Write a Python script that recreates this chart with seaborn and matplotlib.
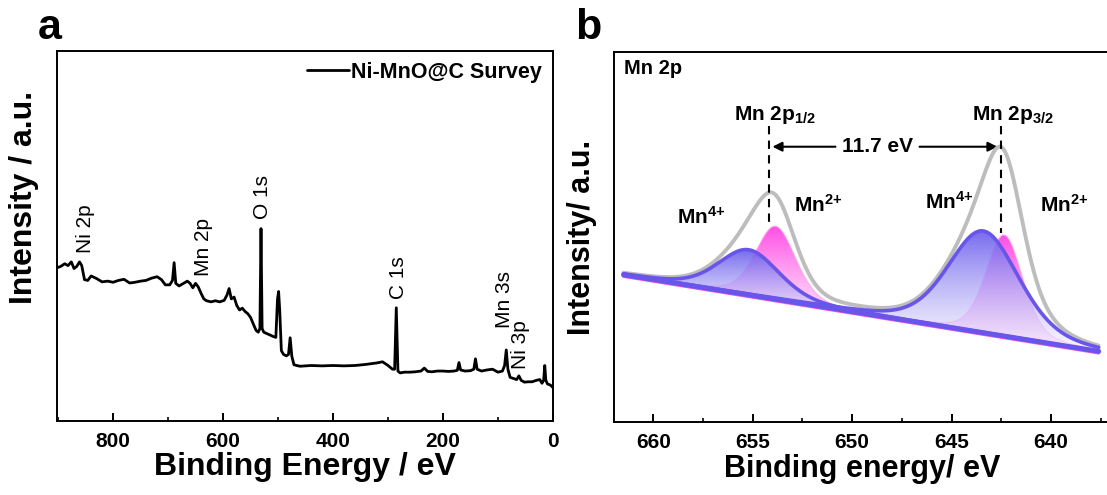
import numpy as np
import pandas as pd
import matplotlib
matplotlib.use("Agg")
import matplotlib.pyplot as plt
import seaborn as sns
from matplotlib.colors import LinearSegmentedColormap
from matplotlib.ticker import MultipleLocator

# ---------------- data : panel a (XPS survey, intensity in axes fraction) ----------------
survey_energy = [902, 895, 888, 882, 876, 871, 866, 861, 857, 852, 846, 840, 830, 820, 810,
                 800, 790, 780, 770, 760, 750, 740, 730, 720, 712, 705, 697, 692, 689, 686,
                 680, 672, 665, 660, 655, 650, 645, 640, 635, 630, 622, 614, 606, 598, 593,
                 589, 585, 580, 575, 570, 565, 560, 555, 550, 545, 540, 536, 533, 531, 529,
                 526, 520, 514, 508, 504, 501, 499, 497, 494, 490, 485, 481, 478, 475, 471,
                 466, 460, 440, 420, 400, 380, 360, 340, 320, 310, 300, 292, 288, 285, 282,
                 278, 270, 260, 250, 240, 234, 228, 220, 210, 200, 190, 180, 174, 171, 168,
                 160, 150, 144, 141, 138, 130, 120, 110, 100, 92, 88, 85, 82, 78, 72,
                 66, 62, 58, 52, 45, 38, 30, 24, 20, 17, 15, 13, 10, 6, 3, 0]
survey_intensity = [0.414, 0.418, 0.425, 0.420, 0.430, 0.412, 0.418, 0.430, 0.420, 0.382, 0.380, 0.392, 0.385, 0.376, 0.378,
                    0.375, 0.380, 0.383, 0.373, 0.375, 0.378, 0.380, 0.386, 0.390, 0.382, 0.368, 0.368, 0.380, 0.428, 0.372,
                    0.365, 0.372, 0.378, 0.372, 0.360, 0.372, 0.362, 0.345, 0.330, 0.325, 0.322, 0.325, 0.322, 0.326, 0.340,
                    0.358, 0.330, 0.335, 0.312, 0.300, 0.305, 0.296, 0.290, 0.280, 0.262, 0.245, 0.240, 0.250, 0.520, 0.250,
                    0.240, 0.236, 0.232, 0.228, 0.226, 0.330, 0.350, 0.300, 0.190, 0.180, 0.176, 0.180, 0.225, 0.175, 0.152,
                    0.150, 0.148, 0.150, 0.149, 0.150, 0.149, 0.150, 0.153, 0.157, 0.160, 0.150, 0.140, 0.140, 0.306, 0.135,
                    0.130, 0.132, 0.132, 0.133, 0.135, 0.143, 0.134, 0.133, 0.135, 0.135, 0.134, 0.135, 0.137, 0.158, 0.138,
                    0.135, 0.136, 0.140, 0.168, 0.140, 0.135, 0.138, 0.140, 0.132, 0.135, 0.150, 0.192, 0.140, 0.118, 0.115,
                    0.112, 0.122, 0.110, 0.105, 0.106, 0.106, 0.110, 0.112, 0.102, 0.110, 0.150, 0.110, 0.100, 0.098, 0.095, 0.090]
survey_label = "Ni-MnO@C Survey"
survey_peak_labels = ["Ni 2p", "Mn 2p", "O 1s", "C 1s", "Mn 3s", "Ni 3p"]
survey_peak_label_x = [850, 636, 528, 281, 89, 59]
survey_peak_label_y = [0.455, 0.392, 0.545, 0.329, 0.252, 0.140]

# ---------------- data : panel b (Mn 2p fit, intensity in axes fraction) ----------------
peak_species = ["Mn4+", "Mn2+", "Mn4+", "Mn2+"]
peak_centers = [655.2, 653.85, 643.4, 642.35]
peak_heights = [0.122, 0.197, 0.275, 0.273]
peak_fwhm = [3.6, 2.4, 4.2, 2.2]
lorentz_fraction = 0.3
background_energy = [661.5, 637.6]
background_intensity = [0.398, 0.191]
doublet_positions = [654.2, 642.5]
doublet_labels = [r"Mn 2p$_{1/2}$", r"Mn 2p$_{3/2}$"]
splitting_label = "11.7 eV"
species_label_x = [657.6, 651.7, 645.1, 639.3]
species_label_y = [0.555, 0.587, 0.596, 0.587]
species_labels = [r"Mn$^{4\!+}$", r"Mn$^{2\!+}$", r"Mn$^{4\!+}$", r"Mn$^{2\!+}$"]

# ---------------- style ----------------
sns.set_theme(style="ticks")
plt.rcParams["font.family"] = ["Liberation Sans", "DejaVu Sans"]
plt.rcParams["font.weight"] = "bold"
plt.rcParams["text.color"] = "black"
plt.rcParams["axes.labelcolor"] = "black"
plt.rcParams["xtick.color"] = "black"
plt.rcParams["ytick.color"] = "black"
plt.rcParams["mathtext.fontset"] = "custom"
plt.rcParams["mathtext.rm"] = "Liberation Sans:bold"
plt.rcParams["mathtext.bf"] = "Liberation Sans:bold"
plt.rcParams["mathtext.it"] = "Liberation Sans:bold:italic"
plt.rcParams["mathtext.default"] = "rm"

W, H = 1107, 495
fig = plt.figure(figsize=(W / 100, H / 100), dpi=100)
fig.patch.set_facecolor("white")


def style_axes(ax, major, minor):
    for sp in ax.spines.values():
        sp.set_linewidth(1.4)
        sp.set_color("black")
        sp.set_visible(True)
    ax.set_facecolor("white")
    ax.xaxis.set_major_locator(MultipleLocator(major))
    ax.xaxis.set_minor_locator(MultipleLocator(minor))
    ax.tick_params(axis="x", which="major", direction="in", length=6, width=1.4,
                   labelsize=15, pad=8, bottom=True, top=False, colors="black")
    ax.tick_params(axis="x", which="minor", direction="in", length=3, width=1.2,
                   bottom=True, top=False)
    ax.tick_params(axis="y", which="both", left=False, right=False, labelleft=False)
    for lab in ax.get_xticklabels():
        lab.set_fontweight("bold")
    ax.grid(False)


# ================= panel a =================
axa = fig.add_axes([57 / W, 1 - 421 / H, 496 / W, 370 / H])
df_a = pd.DataFrame({"energy": survey_energy, "intensity": survey_intensity})
sns.lineplot(data=df_a, x="energy", y="intensity", ax=axa, color="black",
             linewidth=2.0, label=survey_label)
axa.set_xlim(902, 0)
axa.set_ylim(0, 1)
style_axes(axa, 200, 100)
axa.set_xlabel("Binding Energy / eV", fontsize=23, fontweight="bold", labelpad=1)
axa.set_ylabel("Intensity / a.u.", fontsize=23, fontweight="bold")
axa.yaxis.set_label_coords(-0.036, 0.603)
leg = axa.legend(loc="upper right", frameon=False, fontsize=15.5, handlelength=1.95,
                 handletextpad=0.1, borderaxespad=0.2, borderpad=0.3)
for t in leg.get_texts():
    t.set_fontweight("bold")
    t.set_color("black")
for txt, x, y in zip(survey_peak_labels, survey_peak_label_x, survey_peak_label_y):
    axa.text(x, y, txt, rotation=90, ha="center", va="bottom", fontsize=15,
             fontweight="normal", color="black")

# ================= panel b =================
axb = fig.add_axes([614 / W, 1 - 422 / H, 496 / W, 370 / H])
grid = np.linspace(background_energy[0], background_energy[1], 700)
bg = np.interp(grid, background_energy[::-1], background_intensity[::-1])


def pseudo_voigt(x, c, h, fwhm, eta):
    s = fwhm / 2.3548
    g = np.exp(-0.5 * ((x - c) / s) ** 2)
    l = 1.0 / (1.0 + ((x - c) / (fwhm / 2)) ** 2)
    return h * ((1 - eta) * g + eta * l)


comps = [pseudo_voigt(grid, c, h, w, lorentz_fraction)
         for c, h, w in zip(peak_centers, peak_heights, peak_fwhm)]
envelope = bg + np.sum(comps, axis=0)


def gradient_fill(ax, x, ylow, yhigh, top_rgba, bottom_rgba, zorder):
    mask = (yhigh - ylow) > 0.0015
    xs, yl, yh = x[mask], ylow[mask], yhigh[mask]
    poly = ax.fill_between(xs, yl, yh, facecolor="none", edgecolor="none", zorder=zorder)
    cmap = LinearSegmentedColormap.from_list("g", [bottom_rgba, top_rgba])
    grad = np.linspace(0, 1, 256).reshape(-1, 1)
    im = ax.imshow(grad, cmap=cmap, aspect="auto", origin="lower",
                   extent=[xs.min(), xs.max(), yl.min(), yh.max()],
                   interpolation="bilinear", zorder=zorder)
    im.set_clip_path(poly.get_paths()[0], ax.transData)
    return im


pink_top = (1.0, 0.30, 0.90, 1.0)
pink_bot = (1.0, 0.80, 0.97, 0.55)
violet_top = (0.42, 0.37, 0.93, 0.93)
violet_bot = (0.96, 0.95, 1.0, 0.55)
violet_line = "#6a55ea"

for sp, comp in zip(peak_species, comps):
    if sp == "Mn2+":
        gradient_fill(axb, grid, bg, bg + comp, pink_top, pink_bot, 2)
        axb.plot(grid, bg + comp, color=(1.0, 0.6, 0.93), lw=1.0, alpha=0.6, zorder=2.5)
for sp, comp in zip(peak_species, comps):
    if sp == "Mn4+":
        gradient_fill(axb, grid, bg, bg + comp, violet_top, violet_bot, 3)

df_env = pd.DataFrame({"energy": grid, "intensity": envelope})
sns.lineplot(data=df_env, x="energy", y="intensity", ax=axb, color="#bdbdbd",
             linewidth=2.8, zorder=4)
for sp, comp in zip(peak_species, comps):
    if sp == "Mn4+":
        df_c = pd.DataFrame({"energy": grid, "intensity": bg + comp})
        sns.lineplot(data=df_c, x="energy", y="intensity", ax=axb, color=violet_line,
                     linewidth=2.6, zorder=5)
axb.plot(grid, bg - 0.004, color="#f060e0", lw=2.5, zorder=4.5)
df_bg = pd.DataFrame({"energy": grid, "intensity": bg})
sns.lineplot(data=df_bg, x="energy", y="intensity", ax=axb, color=violet_line,
             linewidth=3.6, zorder=5)

axb.set_xlim(661.98, 637.03)
axb.set_ylim(0, 1)
style_axes(axb, 5, 2.5)
axb.set_xlabel("Binding energy/ eV", fontsize=22, fontweight="bold", labelpad=1)
axb.set_ylabel("Intensity/ a.u.", fontsize=22, fontweight="bold", labelpad=12)

axb.text(0.021, 0.955, "Mn 2p", transform=axb.transAxes, fontsize=14.5,
         fontweight="bold", ha="left", va="center")
label_x = [653.9, 641.9]
for xpos, lx, lab in zip(doublet_positions, label_x, doublet_labels):
    axb.text(lx, 0.83, lab, ha="center", va="center", fontsize=15, fontweight="bold")
axb.plot([doublet_positions[0]] * 2, [0.80, 0.53], ls=(0, (4, 3)), color="black", lw=1.5, zorder=6)
axb.plot([doublet_positions[1]] * 2, [0.80, 0.51], ls=(0, (4, 3)), color="black", lw=1.5, zorder=6)
ya = 0.744
axb.annotate("", xy=(doublet_positions[0] - 0.05, ya), xytext=(650.7, ya),
             arrowprops=dict(arrowstyle="-|>", color="black", lw=1.5, mutation_scale=14))
axb.annotate("", xy=(doublet_positions[1] + 0.05, ya), xytext=(646.75, ya),
             arrowprops=dict(arrowstyle="-|>", color="black", lw=1.5, mutation_scale=14))
axb.text(648.72, ya, splitting_label, ha="center", va="center", fontsize=15, fontweight="bold")
for x, y, lab in zip(species_label_x, species_label_y, species_labels):
    axb.text(x, y, lab, ha="center", va="center", fontsize=15, fontweight="bold")

# panel letters
fig.text(50 / W, 1 - 28 / H, "a", fontsize=31, fontweight="bold", ha="center", va="center")
fig.text(588 / W, 1 - 28 / H, "b", fontsize=31, fontweight="bold", ha="center", va="center")

fig.savefig("out.png", dpi=100, facecolor="white")
